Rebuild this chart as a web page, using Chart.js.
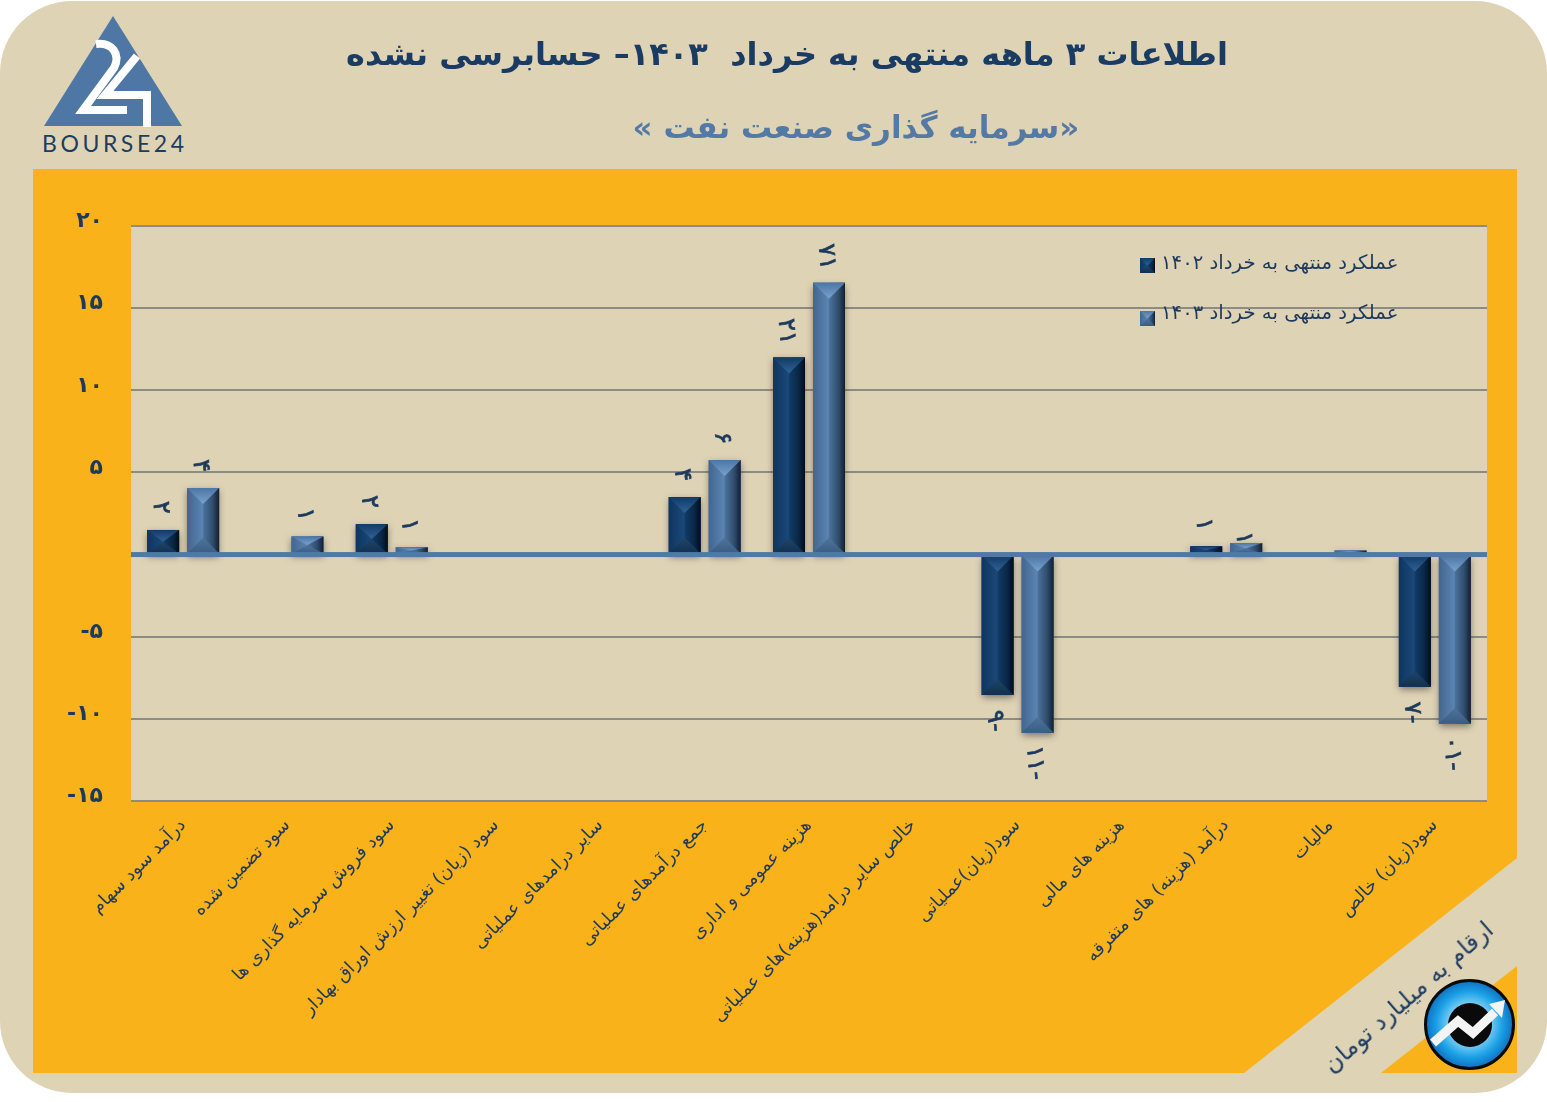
<!DOCTYPE html>
<html lang="fa">
<head>
<meta charset="utf-8">
<title>سرمایه گذاری صنعت نفت</title>
<script src="https://cdn.jsdelivr.net/npm/chart.js@4"></script>
<style>
  html, body { margin: 0; padding: 0; background: #fff; }
  #page { position: relative; width: 1547px; height: 1102px; overflow: hidden; font-family: "DejaVu Sans", sans-serif; }
  #page svg, #chart { position: absolute; left: 0; top: 0; }
  .head { position: absolute; direction: rtl; white-space: pre; font-weight: bold; text-align: center; transform: translateX(-50%); }
  #title { left: 787px; top: 35px; font-size: 32px; color: #1a3c63; }
  #subtitle { left: 856px; top: 109px; font-size: 31px; color: #5379a5; }
  #unit { position: absolute; left: 1408px; top: 997px; direction: rtl; white-space: pre; font-size: 24px; color: #1d3d5f;
          transform: translate(-50%, -50%) rotate(-41deg); }
</style>
</head>
<body>
<div id="page">
  <svg width="1547" height="1102" viewBox="0 0 1547 1102">
    <defs>
      <radialGradient id="lens" cx="50%" cy="50%" r="50%">
        <stop offset="0.45" stop-color="#7fd0f5"/>
        <stop offset="0.75" stop-color="#1aa0e6"/>
        <stop offset="1" stop-color="#0f6fc0"/>
      </radialGradient>
    </defs>
    <rect x="0" y="1" width="1547" height="1092" rx="72" ry="72" fill="#dfd3b6"/>
    <polygon points="33,169 1517,169 1517,858 1244,1073 33,1073" fill="#f9b21a"/>
    <polygon points="1517,966 1517,1073 1381,1073" fill="#f9b21a"/>
    <!-- logo -->
    <polygon points="113,16 182,126 44,126" fill="#4f77a5"/>
    <path d="M96,44 C112,42 121,54 114,68 L83,110 L127,110" fill="none" stroke="#fff" stroke-width="8"/>
    <path d="M137,56 L105,95 L147,95 L147,127" fill="none" stroke="#fff" stroke-width="8"/>
    <text x="42" y="152" font-family="Lato, sans-serif" font-size="23" fill="#1d3d5f" textLength="142" lengthAdjust="spacing">BOURSE24</text>
    <!-- blue badge -->
    <circle cx="1469.5" cy="1024.5" r="44" fill="url(#lens)" stroke="#0a0a0a" stroke-width="3"/>
    <circle cx="1470" cy="1025" r="22" fill="#0a0a0a"/>
    <path d="M1433,1043 L1458,1021 L1473,1033 L1495,1012" fill="none" stroke="#f4f4f4" stroke-width="9"/>
    <polygon points="1505,1000 1489,1004 1502,1018" fill="#f4f4f4"/>
  </svg>
  <canvas id="chart" width="1547" height="1102"></canvas>
  <div id="title" class="head">اطلاعات ۳ ماهه منتهی به خرداد  ۱۴۰۳– حسابرسی نشده</div>
  <div id="subtitle" class="head">«سرمایه گذاری صنعت نفت »</div>
  <div id="unit">ارقام به میلیارد تومان</div>
</div>
<script>
// Chart data
const categories = [
  'درآمد سود سهام',
  'سود تضمین شده',
  'سود فروش سرمایه گذاری ها',
  'سود (زیان) تغییر ارزش اوراق بهادار',
  'سایر درامدهای عملیاتی',
  'جمع درآمدهای عملیاتی',
  'هزینه عمومی و اداری',
  'خالص سایر درامد(هزینه)های عملیاتی',
  'سود(زیان)عملیاتی',
  'هزینه های مالی',
  'درآمد (هزینه) های متفرقه',
  'مالیات',
  'سود(زیان) خالص'
];
const seriesNames = ['عملکرد منتهی به خرداد ۱۴۰۲', 'عملکرد منتهی به خرداد ۱۴۰۳'];
const values1402 = [1.5, -0.05, 1.85, 0, 0, 3.5, 12, 0, -8.55, 0, 0.5, -0.05, -8.05];
const values1403 = [4.05, 1.1, 0.45, 0, 0, 5.75, 16.55, 0, -10.85, 0, 0.7, 0.25, -10.3];
const labels1402 = ['۲', '', '۲', '', '', '۴', '۱۲', '', '-۹', '', '۱', '', '-۷'];
const labels1403 = ['۴', '۱', '۱', '', '', '۶', '۱۷', '', '-۱۱', '', '۱', '', '-۱۰'];
const yValues = [-15, -10, -5, 0, 5, 10, 15, 20];
const yLabels = ['-۱۵', '-۱۰', '-۵', '', '۵', '۱۰', '۱۵', '۲۰'];

const FONT = '"DejaVu Sans", sans-serif';
const INK = '#1d3a5c';

// Colours of the bevelled bars
const bevels = [
  { side: ['#0f3560', '#1a4878', '#113a66', '#0a2745', '#020d1a'], top: ['#123a66', '#2f6396'], bottom: ['#12304f', '#1f4468'] },
  { side: ['#41668f', '#5c84b2', '#4a7099', '#2f4c6c', '#131f2f'], top: ['#4c76a5', '#7aa2cf'], bottom: ['#3a5c82', '#4f749c'] }
];

function drawBevel(ctx, x0, y0, x1, y1, pal) {
  const w = x1 - x0, h = y1 - y0;
  if (h <= 0) return;
  const d = Math.min(w, h) / 2, cx = (x0 + x1) / 2;
  const g = ctx.createLinearGradient(x0, 0, x1, 0);
  g.addColorStop(0, pal.side[0]);
  g.addColorStop(0.48, pal.side[1]);
  g.addColorStop(0.52, pal.side[2]);
  g.addColorStop(0.8, pal.side[3]);
  g.addColorStop(1, pal.side[4]);
  ctx.fillStyle = g;
  ctx.fillRect(x0, y0, w, h);

  let tg = ctx.createLinearGradient(0, y0, 0, y0 + d);
  tg.addColorStop(0, pal.top[0]);
  tg.addColorStop(1, pal.top[1]);
  ctx.fillStyle = tg;
  ctx.beginPath();
  ctx.moveTo(x0, y0);
  ctx.lineTo(x1, y0);
  ctx.lineTo(cx, y0 + d);
  ctx.fill();

  tg = ctx.createLinearGradient(0, y1 - d, 0, y1);
  tg.addColorStop(0, pal.bottom[1]);
  tg.addColorStop(1, pal.bottom[0]);
  ctx.fillStyle = tg;
  ctx.beginPath();
  ctx.moveTo(x0, y1);
  ctx.lineTo(x1, y1);
  ctx.lineTo(cx, y1 - d);
  ctx.fill();
}

// Plot background, bar shadow, bevels, zero line, value labels and legend
const decorations = {
  id: 'decorations',
  beforeDraw(chart) {
    const { ctx, chartArea: a } = chart;
    ctx.save();
    ctx.fillStyle = '#dfd3b6';
    ctx.fillRect(a.left, a.top, a.right - a.left, a.bottom - a.top);
    ctx.restore();
  },
  beforeDatasetsDraw(chart) {
    const ctx = chart.ctx;
    ctx.save();
    ctx.shadowColor = 'rgba(40,40,40,0.55)';
    ctx.shadowBlur = 7;
    ctx.shadowOffsetY = 3;
  },
  afterDatasetsDraw(chart) {
    const { ctx, chartArea: a, scales } = chart;
    ctx.restore();

    chart.data.datasets.forEach((ds, i) => {
      chart.getDatasetMeta(i).data.forEach(bar => {
        const p = bar.getProps(['x', 'y', 'base', 'width'], true);
        drawBevel(ctx, p.x - p.width / 2, Math.min(p.y, p.base), p.x + p.width / 2, Math.max(p.y, p.base), bevels[i]);
      });
    });

    const zero = scales.y.getPixelForValue(0);
    ctx.fillStyle = '#5279a5';
    ctx.fillRect(a.left, zero - 2.5, a.right - a.left, 5);

    const textSets = [labels1402, labels1403];
    ctx.fillStyle = INK;
    ctx.strokeStyle = INK;
    ctx.lineWidth = 0.7;
    ctx.font = '24px ' + FONT;
    ctx.textAlign = 'center';
    ctx.textBaseline = 'middle';
    chart.data.datasets.forEach((ds, i) => {
      chart.getDatasetMeta(i).data.forEach((bar, j) => {
        const text = textSets[i][j];
        if (!text) return;
        const p = bar.getProps(['x', 'y'], true);
        const off = 22 + (text.length - 1) * 4;
        // vertical text reads top to bottom, digits stay in right to left order
        const shown = [...text].reverse().join('');
        let y = ds.data[j] >= 0 ? p.y - off : p.y + off;
        if (i === 1 && j === 10) y += 17; // squeezed next to its neighbour
        ctx.save();
        ctx.translate(p.x - 3, y);
        ctx.rotate(85 * Math.PI / 180);
        ctx.fillText(shown, 0, 0);
        ctx.strokeText(shown, 0, 0);
        ctx.restore();
      });
    });

    // legend
    const keys = [[1140, 258, 264], [1140, 311, 314]];
    ctx.font = '19.7px ' + FONT;
    ctx.textAlign = 'left';
    chart.data.datasets.forEach((ds, i) => {
      const [kx, ky, ty] = keys[i];
      drawBevel(ctx, kx, ky, kx + 15, ky + 15, bevels[i]);
      ctx.fillStyle = INK;
      ctx.fillText(ds.label, kx + 21, ty);
    });
  }
};

const chart = new Chart(document.getElementById('chart').getContext('2d'), {
  type: 'bar',
  data: {
    labels: categories,
    datasets: [
      { label: seriesNames[0], data: values1402, backgroundColor: '#0f3560' },
      { label: seriesNames[1], data: values1403, backgroundColor: '#41668f' }
    ]
  },
  options: {
    responsive: false,
    animation: false,
    layout: { padding: { top: 226, right: 60, left: 0, bottom: 0 } },
    categoryPercentage: 0.767,
    barPercentage: 0.8,
    plugins: { legend: { display: false }, title: { display: false }, tooltip: { enabled: false } },
    scales: {
      x: {
        grid: { display: false },
        border: { display: false },
        afterFit(scale) { scale.height = 301; },
        ticks: {
          autoSkip: false,
          minRotation: 45,
          maxRotation: 45,
          padding: 6,
          color: INK,
          font: { family: FONT, size: 18 }
        }
      },
      y: {
        min: -15,
        max: 20,
        afterFit(scale) { scale.width = 131; },
        border: { display: false },
        grid: { color: '#8d8c84', lineWidth: 2, drawTicks: false },
        ticks: {
          stepSize: 5,
          padding: 28,
          color: INK,
          font: { family: FONT, size: 22, weight: 'bold', lineHeight: 0.4 },
          // a blank second line lifts the number above its grid line
          callback: v => [yLabels[yValues.indexOf(v)], '']
        }
      }
    }
  },
  plugins: [decorations]
});
</script>
</body>
</html>
